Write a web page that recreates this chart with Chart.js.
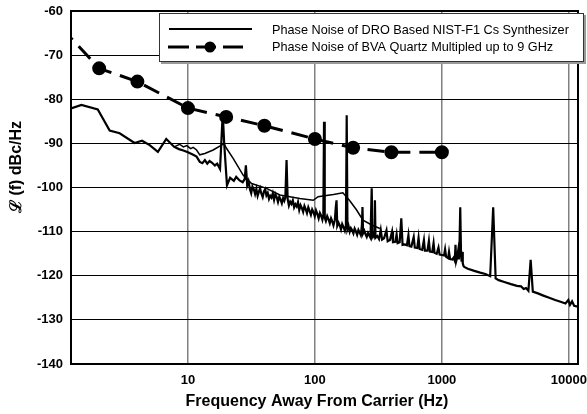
<!DOCTYPE html>
<html>
<head>
<meta charset="utf-8">
<script src="https://cdn.jsdelivr.net/npm/chart.js@4.4.1/dist/chart.umd.min.js"></script>
<style>
  html, body { margin: 0; padding: 0; background: #fff; }
  #wrap { width: 587px; height: 414px; position: relative; }
</style>
</head>
<body>
<div id="wrap"><canvas id="pn"></canvas></div>
<script>
// Phase noise of the DRO-based NIST-F1 synthesizer: [offset Hz, dBc/Hz]
const droTrace = [
  [1.2, -82.1], [1.45, -81.3], [1.95, -82.3], [2.42, -87.1], [2.9, -87.7], [3.8, -89.9],
  [4.35, -89.4], [5.0, -90.4], [5.8, -91.9], [6.75, -89.0], [7.8, -90.8], [8.5, -91.3],
  [9.2, -91.6], [10, -92.0], [11, -92.6], [11.7, -93.0], [12.4, -94.2], [13, -94.5],
  [13.6, -93.8], [14.2, -94.6], [14.8, -94.0], [15.5, -94.4], [16.3, -95.0], [17, -94.6],
  [17.9, -95.8], [18.8, -83.2], [19.3, -90.0], [20.3, -99.5], [21.5, -97.8], [23, -98.5],
  [24, -97.6], [25.5, -98.4], [27, -98.8], [28, -98.1], [28.6, -95.0], [29.3, -99.5],
  [30, -98.6], [30.8, -100.4], [31.5, -101.3], [32.2, -99.8], [33, -100.4], [33.8, -101.5],
  [34.6, -100.3], [35.4, -101.9], [36.2, -101.0], [37, -100.2], [37.9, -101.4], [38.8, -102.2],
  [39.7, -100.9], [40.6, -100.4], [41.5, -101.8], [42.5, -101.2], [43.5, -102.6], [44.5, -101.9],
  [45.5, -102.3], [46.6, -101.3], [47.7, -102.8], [48.8, -101.5], [50, -102.2], [51.2, -103.3],
  [52.4, -102.1], [53.6, -102.7], [54.9, -103.6], [56.2, -102.4], [57.4, -103.0], [58.5, -102.2],
  [59.8, -93.8], [61, -102.6], [62.4, -104.1], [63.9, -103.2], [65.4, -103.7], [67, -102.9],
  [68.6, -104.5], [70.2, -103.8], [71.9, -104.3], [73.6, -103.3], [75.3, -105.1], [77.1, -104.0],
  [78.9, -104.6], [80.8, -105.5], [82.7, -104.2], [84.6, -104.9], [86.6, -105.8], [88.7, -104.5],
  [90.8, -105.3], [93, -106.2], [95.2, -105.0], [97.4, -105.6], [99.7, -106.5], [102, -105.2],
  [104.5, -106.0], [107, -107.0], [109.5, -105.8], [112, -106.4], [114.5, -107.3], [116.5, -106.2],
  [118, -85.1], [119.5, -106.8], [122, -107.6], [125, -106.5], [128, -107.2], [131, -108.1],
  [134, -107.0], [137, -107.7], [140, -108.6], [143.5, -107.4], [146, -104.5], [148, -102.9],
  [150, -108.7], [153.5, -108.0], [157, -108.6], [160.5, -109.5], [164, -108.3], [168, -109.0],
  [172, -109.8], [175.5, -108.6], [178, -83.6], [180.5, -109.4], [184, -108.7], [188, -110.0],
  [192, -109.2], [196.5, -109.7], [201, -110.4], [205.5, -109.3], [210, -109.9], [215, -110.7],
  [220, -109.6], [225, -110.2], [230, -110.8], [234.5, -108.5], [237, -104.4], [239.5, -110.4],
  [245, -109.8], [250.5, -110.6], [256, -111.2], [262, -110.3], [268, -110.9], [274, -111.4],
  [280, -100.2], [285, -111.0], [290, -110.5], [294, -111.3], [297, -102.9], [300, -111.4],
  [310, -111.0], [320, -111.7], [330, -109.6], [338, -111.8], [350, -111.5], [366, -109.7],
  [374, -112.2], [390, -111.9], [405, -110.0], [412, -112.4], [430, -112.3], [440, -110.6],
  [448, -112.6], [465, -112.4], [479, -107.0], [490, -113.0], [510, -112.9], [530, -113.1],
  [545, -110.8], [555, -113.3], [575, -113.4], [600, -111.2], [612, -113.6], [640, -113.7],
  [655, -111.4], [668, -113.9], [700, -114.1], [722, -111.9], [735, -114.3], [770, -114.3],
  [790, -112.1], [805, -114.5], [840, -114.6], [860, -112.6], [875, -114.8], [910, -115.0],
  [940, -113.6], [960, -115.2], [1000, -115.3], [1040, -115.4], [1060, -114.0], [1080, -115.7],
  [1120, -116.0], [1138, -114.6], [1160, -116.2], [1210, -116.3], [1237, -115.9], [1264, -116.6],
  [1280, -113.0], [1296, -116.7], [1320, -115.8], [1345, -114.2], [1360, -116.3], [1375, -113.6],
  [1395, -104.5], [1415, -115.2], [1430, -116.8], [1445, -114.6], [1460, -117.2], [1480, -117.8],
  [1500, -118.0], [1600, -118.4], [1800, -118.9], [2000, -119.3], [2200, -119.6], [2400, -120.1],
  [2535, -104.5], [2650, -120.6], [2800, -121.0], [3100, -121.4], [3500, -121.9], [3900, -122.3],
  [4200, -122.4], [4400, -123.0], [4600, -122.8], [4800, -123.4], [5000, -116.4], [5200, -123.6],
  [5700, -124.0], [6300, -124.5], [7000, -125.0], [7800, -125.5], [8600, -125.9], [9400, -126.3],
  [9900, -125.5], [10200, -126.6], [10600, -125.8], [11000, -126.8], [11800, -127.0]
];

// second (smoother) sweep of the same synthesizer, 8 Hz .. 300 Hz
const droTrace2 = [
  [7.8, -90.8], [8.6, -90.2], [9.2, -90.8], [9.8, -90.5], [10.5, -91.2], [11, -90.9],
  [11.7, -91.5], [12.4, -92.6], [13.6, -92.3], [15.8, -91.5], [18.4, -90.4], [19.2, -90.0],
  [20, -91.0], [22.7, -93.4], [27.2, -97.2], [31.7, -99.1], [41.6, -100.2], [53, -101.7],
  [76, -102.5], [97, -102.9], [106, -102.1], [123, -101.8], [140, -101.6], [166, -101.2],
  [187, -102.9], [213, -105.1], [239, -107.4], [280, -108.5], [325, -109.3]
];

// BVA quartz multiplied up to 9 GHz
const bvaFreq = [1, 2, 4, 10, 20, 40, 100, 200, 400, 1000];
const bvaLevel = [-63.7, -73, -76, -82, -84, -86, -89, -91, -92, -92];

const xTicks = [10, 100, 1000, 10000];
const legendLabels = [
  "Phase Noise of DRO Based NIST-F1 Cs Synthesizer",
  "Phase Noise of BVA Quartz Multipled up to 9 GHz",
];
const xTitle = "Frequency Away From Carrier (Hz)";
const yTitle = "\u2112 (f) dBc/Hz";

const FONT = "'Liberation Sans', Arial, sans-serif";

const toXY = (pairs) => pairs.map(([x, y]) => ({ x, y }));

// frame, axis titles and the boxed legend are drawn by hand
const decorPlugin = {
  id: "decor",
  afterDraw(chart) {
    const { ctx, chartArea: a } = chart;
    ctx.save();
    ctx.strokeStyle = "#000";
    ctx.lineWidth = 2;
    ctx.strokeRect(a.left, a.top, a.right - a.left, a.bottom - a.top);

    ctx.fillStyle = "#000";
    ctx.font = `bold 16px ${FONT}`;
    ctx.textAlign = "center";
    ctx.textBaseline = "middle";
    ctx.fillText(xTitle, 317, 402);
    ctx.save();
    ctx.translate(17, 167);
    ctx.rotate(-Math.PI / 2);
    ctx.fillText(yTitle, 0, 0);
    ctx.restore();

    // legend box
    ctx.fillStyle = "#999";
    ctx.fillRect(161, 15, 425, 49);
    ctx.fillStyle = "#fff";
    ctx.fillRect(159, 13, 425, 49);
    ctx.strokeStyle = "#333";
    ctx.lineWidth = 1;
    ctx.strokeRect(159.5, 13.5, 424, 48);

    ctx.strokeStyle = "#000";
    ctx.lineWidth = 2;
    ctx.beginPath();
    ctx.moveTo(169, 29);
    ctx.lineTo(252, 29);
    ctx.stroke();

    ctx.lineWidth = 3;
    [[168, 189], [196, 216], [223, 243]].forEach(([s, e]) => {
      ctx.beginPath();
      ctx.moveTo(s, 47);
      ctx.lineTo(e, 47);
      ctx.stroke();
    });
    ctx.fillStyle = "#000";
    ctx.beginPath();
    ctx.arc(210, 47, 5.5, 0, Math.PI * 2);
    ctx.fill();

    ctx.font = `12.7px ${FONT}`;
    ctx.textAlign = "left";
    ctx.fillText(legendLabels[0], 272, 30);
    ctx.fillText(legendLabels[1], 272, 47);
    ctx.restore();
  },
};

new Chart(document.getElementById("pn"), {
  type: "line",
  data: {
    datasets: [
      {
        label: legendLabels[0],
        data: toXY(droTrace),
        borderColor: "#000",
        borderWidth: 2.2,
        pointRadius: 0,
        tension: 0,
        clip: 0,
      },
      {
        label: legendLabels[0] + " (2)",
        data: toXY(droTrace2),
        borderColor: "#000",
        borderWidth: 1.5,
        pointRadius: 0,
        tension: 0,
        clip: 0,
      },
      {
        label: legendLabels[1],
        data: bvaFreq.map((f, i) => ({ x: f, y: bvaLevel[i] })),
        borderColor: "#000",
        borderWidth: 3,
        borderDash: [17, 9],
        pointRadius: bvaFreq.map((f) => (f < 1.2 ? 0 : 5.5)),
        pointBackgroundColor: "#000",
        pointBorderColor: "#000",
        tension: 0,
        clip: 0,
      },
    ],
  },
  options: {
    responsive: true,
    maintainAspectRatio: false,
    animation: false,
    parsing: false,
    layout: { padding: { top: 11, right: 9, left: 0, bottom: 0 } },
    plugins: { legend: { display: false }, tooltip: { enabled: false } },
    scales: {
      x: {
        type: "logarithmic",
        min: 1.2,
        max: 11800,
        afterBuildTicks: (s) => { s.ticks = xTicks.map((v) => ({ value: v })); },
        afterFit: (s) => {
          s.height = 50;
          s.paddingLeft = 0;
          s.paddingRight = 0;
        },
        ticks: {
          autoSkip: false,
          maxRotation: 0,
          padding: 9,
          color: "#000",
          font: { family: FONT, size: 13, weight: "bold" },
          callback: (v) => String(v),
        },
        grid: { color: "#808080", lineWidth: 1.5, drawTicks: false },
        border: { color: "#000", width: 2 },
      },
      y: {
        min: -140,
        max: -60,
        afterFit: (s) => {
          s.width = 71;
          s.paddingTop = 0;
          s.paddingBottom = 0;
        },
        ticks: {
          stepSize: 10,
          padding: 8,
          color: "#000",
          font: { family: FONT, size: 13, weight: "bold" },
        },
        grid: { color: "#000", lineWidth: 1, drawTicks: false },
        border: { color: "#000", width: 2 },
      },
    },
  },
  plugins: [decorPlugin],
});
</script>
</body>
</html>
